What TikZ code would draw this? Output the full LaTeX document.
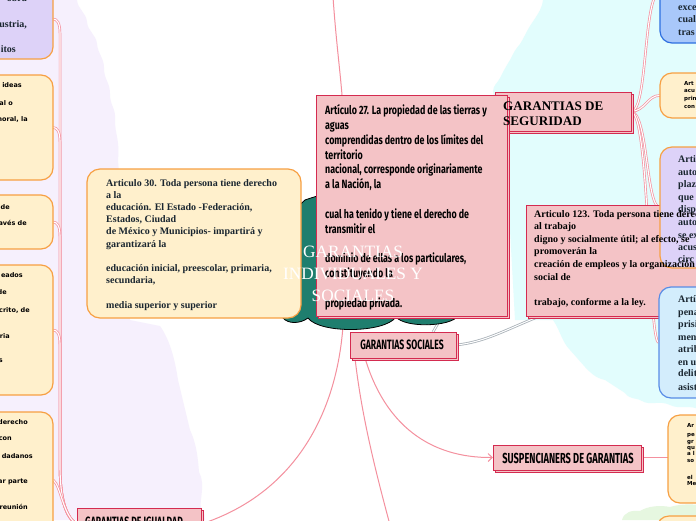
\documentclass[tikz,border=0pt]{standalone}
\usepackage{fontspec}
\setmainfont{Liberation Serif}
\newfontfamily\condf[FakeStretch=0.74]{Fira Sans}
\newfontfamily\condb[FakeStretch=0.64]{Fira Sans}
\newfontfamily\smallsans{DejaVu Sans}
\usetikzlibrary{shadows,arrows.meta}
\definecolor{lav}{HTML}{F6F0FD}
\definecolor{cyanbg}{HTML}{E2FDFD}
\definecolor{greenbg}{HTML}{E6F7E0}
\definecolor{teal1}{HTML}{1F7E6E}
\definecolor{pinkf}{HTML}{F4C3C6}
\definecolor{crim}{HTML}{D42B50}
\definecolor{pinkl}{HTML}{F4909E}
\definecolor{creamf}{HTML}{FFF0CC}
\definecolor{orangeb}{HTML}{F7A043}
\definecolor{purplef}{HTML}{DDD2F8}
\definecolor{bluef}{HTML}{A9C8FA}
\definecolor{blueb}{HTML}{2E6FE0}
\definecolor{blue2f}{HTML}{D3EDFC}
\definecolor{greyl}{HTML}{A9B1B8}
\definecolor{darktxt}{HTML}{1A2630}
\tikzset{
  pinkbox/.style={draw=crim, fill=pinkf, line width=1pt, inner sep=0pt,
    copy shadow={shadow xshift=2pt, shadow yshift=-2pt}},
  roundbox/.style={line width=1.2pt, rounded corners=12pt, inner sep=0pt},
  creambox/.style={roundbox, draw=orangeb, fill=creamf},
  purplebox/.style={roundbox, draw=orangeb, fill=purplef},
  bluebox/.style={roundbox, draw=blueb, fill=bluef},
  blueboxb/.style={roundbox, draw=blueb!80, fill=blue2f},
  branch/.style={draw=pinkl, line width=0.7pt, double=white, double distance=1.1pt},
  pinkthin/.style={draw=pinkl, line width=1pt},
  greylink/.style={draw=greyl, line width=0.8pt, double=white, double distance=1pt},
  lt/.style={anchor=base east, inner sep=0pt, font=\smallsans\bfseries\fontsize{6.5}{8}\selectfont},
  rtserif/.style={anchor=base west, inner sep=0pt, text=darktxt, font=\bfseries\fontsize{10}{12}\selectfont},
  rtsans/.style={anchor=base west, inner sep=0pt, font=\smallsans\bfseries\fontsize{5.5}{7}\selectfont},
  boxtitle/.style={font=\condb\bfseries\fontsize{13.5}{15}\selectfont, inner sep=0pt},
}
\begin{document}
\begin{tikzpicture}[x=1pt,y=-1pt]
\useasboundingbox (0,0) rectangle (696,520);
\clip (0,0) rectangle (696,520);
% backgrounds
\fill[white] (0,0) rectangle (696,520);
\fill[lav] (0,0) -- (77,0)
 .. controls (78,10) and (86,12) .. (87,22)
 .. controls (88,32) and (96,34) .. (97,44)
 .. controls (98,54) and (104,58) .. (104,68)
 .. controls (104,80) and (110,82) .. (110,94)
 .. controls (110,106) and (116,108) .. (115,120)
 .. controls (115,135) and (120,140) .. (118,160)
 -- (130,320) -- (160,326)
 .. controls (170,340) and (175,360) .. (178,380) -- (190,430)
 .. controls (197,445) and (198,460) .. (199,472)
 .. controls (206,485) and (199,500) .. (201,508)
 .. controls (206,512) and (204,518) .. (205,520)
 -- (0,520) -- cycle;
\fill[cyanbg] (543,0) -- (700,0) -- (700,410)
 .. controls (690,404) and (680,410) .. (670,405)
 .. controls (660,400) and (650,406) .. (642,401)
 .. controls (635,397) and (630,400) .. (625,393) -- (605,380)
 .. controls (595,378) and (590,372) .. (585,367) -- (570,350)
 .. controls (562,342) and (560,330) .. (553,320) -- (515,320) -- (505,140) -- (493,92)
 .. controls (493,85) and (497,84) .. (500,78)
 .. controls (503,72) and (505,68) .. (510,60)
 .. controls (514,52) and (515,50) .. (520,44)
 .. controls (524,38) and (525,34) .. (530,26)
 .. controls (535,18) and (540,12) .. (542,5) -- cycle;
\fill[greenbg] (622,520) .. controls (624,512) and (632,510) .. (640,511)
 .. controls (648,506) and (660,505) .. (670,507)
 .. controls (680,504) and (690,504) .. (700,505) -- (700,520) -- cycle;

% node placeholders (boxes) defined first for connectors
\path (13,19) node[minimum width=80pt, minimum height=80pt] (L1) {};
\path (13,127.5) node[minimum width=80pt, minimum height=105pt] (L2) {};
\path (13,222) node[minimum width=80pt, minimum height=54pt] (L3) {};
\path (13,330) node[minimum width=80pt, minimum height=130pt] (L4) {};
\path (13,480) node[minimum width=80pt, minimum height=136pt] (L5) {};
\path (700,-8.5) node[minimum width=80pt, minimum height=103pt] (R1) {};
\path (700,95.5) node[minimum width=80pt, minimum height=45pt] (R2) {};
\path (700,207.5) node[minimum width=80pt, minimum height=121pt] (R3) {};
\path (699,342.5) node[minimum width=80pt, minimum height=111pt] (R4) {};
\path (708,459) node[minimum width=80pt, minimum height=88pt] (R5) {};
\path (563,111.5) node[minimum width=136pt, minimum height=39pt] (seg) {};
\path (403,345) node[minimum width=106pt, minimum height=26pt] (soc) {};
\path (567,457.5) node[minimum width=148pt, minimum height=25pt] (sus) {};
\path (139,524) node[minimum width=124pt, minimum height=32pt] (igu) {};
\coordinate (cl1) at (343,326);
\coordinate (cl2) at (440,320);
\coordinate (topend) at (333,-3);
\coordinate (a27t) at (342,95);
\coordinate (s1) at (355,358);
\coordinate (s2) at (365,358);
\coordinate (s3) at (433,332);
\coordinate (socb) at (390,525);
\coordinate (a123b) at (540,316);

% connectors
\draw[branch] (seg.east) .. controls (648,111) and (643,-5) .. (R1.west);
\draw[branch] (seg.east) .. controls (645,111) and (648,95) .. (R2.west);
\draw[branch] (seg.east) .. controls (648,113) and (646,207) .. (R3.west);
\draw[branch] (seg.east) .. controls (650,115) and (648,342) .. (R4.west);
\foreach \L/\yy in {L1/19, L2/127.5, L3/222, L4/330}{
  \draw[branch] (igu.west) .. controls (63,516) and (60,490) .. (60,465)
     -- (60,\yy+14) .. controls (60,\yy+4) and (57,\yy) .. (\L.east);
}
\draw[branch] (igu.west) .. controls (63,516) and (61,486) .. (L5.east);
\draw[pinkthin] (topend) .. controls (336,40) and (340,70) .. (a27t);
\draw[pinkthin] (cl1) .. controls (336,420) and (290,495) .. (igu.east);
\draw[pinkthin] (s1) .. controls (362,420) and (378,480) .. (socb);
\draw[pinkthin, -{Straight Barb[length=4pt,width=8pt]}] (s2) .. controls (385,425) and (430,458) .. (sus.west);
\draw[pinkthin] (sus.east) -- (sus.east -| R5.west);
\draw[greylink] (cl2) -- (s3);
\draw[greylink] (soc.east) .. controls (485,342) and (505,330) .. (a123b);

% central cloud
\draw[fill=teal1, line width=0.8pt] (283,318) .. controls (281,270) and (285,215) .. (305,200)
 .. controls (360,180) and (440,185) .. (470,210)
 .. controls (480,250) and (478,300) .. (458,316)
 .. controls (450,327) and (405,328) .. (396,317)
 .. controls (385,333) and (320,334) .. (308,318)
 .. controls (300,324) and (288,324) .. (283,318) -- cycle;

% left nodes
\node[purplebox, minimum width=80pt, minimum height=80pt] (L1b) at (L1) {};
\node[creambox, minimum width=80pt, minimum height=105pt] (L2b) at (L2) {};
\node[creambox, minimum width=80pt, minimum height=54pt] (L3b) at (L3) {};
\node[creambox, minimum width=80pt, minimum height=130pt] (L4b) at (L4) {};
\node[creambox, minimum width=80pt, minimum height=136pt] (L5b) at (L5) {};
\foreach \xx/\yy/\tt [count=\n] in {27/1/obra, 27/27/{ustria,}, 16/52/itos}{
  \node[anchor=base east, inner sep=0pt, text=darktxt, font=\bfseries\fontsize{10}{12}\selectfont] (la\n) at (\xx,\yy) {\tt};
}
\foreach \xx/\yy/\tt [count=\n] in {22/87/ideas, 13/105/{al o}, 28/121/{moral, la},
   10/209/de, 27/225/{avés de},
   23/277/eados, 7/294/de, 30/312/{crito, de}, 10/338/ria, 3/362/s,
   28/424/derecho, 12/440/con, 33/458/dadanos, 28/483/{ar parte}, 28/509/reunión}{
  \node[lt] (lb\n) at (\xx,\yy) {\tt};
}

% right nodes R1, R2
\node[bluebox, minimum width=80pt, minimum height=103pt] (R1b) at (R1) {};
\node[creambox, minimum width=80pt, minimum height=45pt] (R2b) at (R2) {};
\foreach \yy/\tt [count=\n] in {10/exce, 22/cual, 35/tras}{
  \node[rtserif] (ra\n) at (678,\yy) {\tt};
}
\foreach \yy/\tt [count=\n] in {85/Art, 92/acu, 100/prin, 108/con}{
  \node[rtsans] (rb\n) at (684,\yy) {\tt};
}

% garantias de seguridad + article 27
\node[pinkbox, minimum width=136pt, minimum height=39pt] (segb) at (seg) {};
\node[pinkbox, minimum width=191pt, minimum height=221pt] (a27) at (411.5,205.5) {};
\node[anchor=north west, inner sep=0pt, align=left, font=\condf\bfseries\fontsize{12}{14.8}\selectfont] (a27txt) at (325,104.5)
 {Artículo 27. La propiedad de las tierras y\\ aguas\\ comprendidas dentro de los límites del\\ territorio\\ nacional, corresponde originariamente\\ a la Nación, la\\ ~\\ cual ha tenido y tiene el derecho de\\ transmitir el\\ ~\\ dominio de ellas a los particulares,\\ constituyendo la\\ ~\\ propiedad privada.};
\node[anchor=north west, inner sep=0pt, align=left, font=\bfseries\fontsize{13.1}{15}\selectfont] (segtxt) at (503,101.3) {GARANTIAS DE\\ SEGURIDAD};

% article 123 and right nodes
\node[pinkbox, minimum width=174pt, minimum height=111pt] (a123) at (613,260.5) {};
\node[purplebox, minimum width=80pt, minimum height=121pt] (R3b) at (R3) {};
\foreach \yy/\tt [count=\n] in {162/Arti, 175/auto, 187/plaz, 200/que, 212/disp, 225/auto, 238/{se ex}, 250/acus, 262/circ}{
  \node[rtserif] (rc\n) at (678,\yy) {\tt};
}
\node[anchor=north west, inner sep=0pt, align=left, font=\bfseries\fontsize{10}{12.6}\selectfont] (a123txt) at (534,210)
 {Articulo 123. Toda persona tiene derecho\\ al trabajo\\ digno y socialmente útil; al efecto, se\\ promoverán la\\ creación de empleos y la organización\\ social de\\ ~\\ trabajo, conforme a la ley.};
\node[blueboxb, minimum width=80pt, minimum height=111pt] (R4b) at (R4) {};
\foreach \yy/\tt [count=\n] in {302/Artí, 315/pena, 327/prisi, 340/men, 352/atrib, 365/{en u}, 376/delit, 390/asist}{
  \node[rtserif] (rd\n) at (678,\yy) {\tt};
}
\node[creambox, minimum width=80pt, minimum height=88pt] (R5b) at (R5) {};
\foreach \yy/\tt [count=\n] in {427/Ar, 436/pe, 443/gr, 449/qu, 455/{a l}, 462/so, 479/el, 485/Me}{
  \node[rtsans] (re\n) at (687,\yy) {\tt};
}
\node[creambox, minimum width=80pt, minimum height=60pt] (R6b) at (697,546) {};

% article 30
\node[creambox, rounded corners=13pt, minimum width=214pt, minimum height=149pt] (a30) at (194,243.5) {};
\node[anchor=north west, inner sep=0pt, align=left, text=darktxt, font=\bfseries\fontsize{10}{12.2}\selectfont] (a30txt) at (106,179)
 {Articulo 30. Toda persona tiene derecho\\ a la\\ educación. El Estado -Federación,\\ Estados, Ciudad\\ de México y Municipios- impartirá y\\ garantizará la\\ ~\\ educación inicial, preescolar, primaria,\\ secundaria,\\ ~\\ media superior y superior};

% small pink boxes
\node[pinkbox, minimum width=106pt, minimum height=26pt] (socb2) at (soc) {};
\node[boxtitle] (soctxt) at (402,345) {GARANTIAS SOCIALES};
\node[pinkbox, minimum width=148pt, minimum height=25pt] (susb) at (sus) {};
\node[boxtitle, font=\condb\bfseries\fontsize{14.5}{16}\selectfont] (sustxt) at (568,458) {SUSPENCIANERS DE GARANTIAS};
\node[pinkbox, minimum width=124pt, minimum height=32pt] (igub) at (igu) {};
\node[boxtitle, anchor=north west] (igutxt) at (85,517) {GARANTIAS DE IGUALDAD};

% central title
\node[align=center, text=white, inner sep=0pt, font=\fontsize{17.3}{22}\selectfont] (ctitle) at (353,274.3) {GARANTIAS\\ INDIVIDUALES Y\\ SOCIALES};
\end{tikzpicture}
\end{document}
